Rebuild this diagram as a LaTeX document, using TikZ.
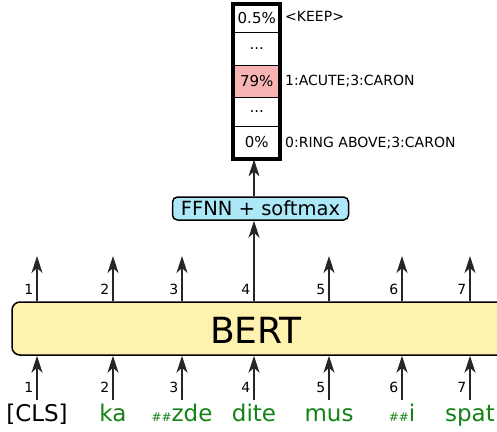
\documentclass[tikz,border=0pt]{standalone}
\usepackage{fontspec}
\setmainfont{DejaVu Sans}
\usetikzlibrary{arrows.meta}
\definecolor{bertfill}{RGB}{255,242,175}
\definecolor{ffnnfill}{RGB}{173,232,248}
\definecolor{hot}{RGB}{248,180,180}
\definecolor{tokgreen}{RGB}{20,130,20}
\begin{document}
\begin{tikzpicture}[x=1pt,y=-1pt,
  arr/.style={-{Stealth[length=17pt,width=11pt,inset=5pt]}, line width=1.3pt, draw=black!85},
  num/.style={font=\fontsize{14}{14}\selectfont, anchor=base east, inner sep=0pt},
  tok/.style={font=\fontsize{23}{23}\selectfont, anchor=base, inner sep=0pt, text=tokgreen},
  cell/.style={draw, line width=0.8pt, minimum width=46.5pt, inner sep=0pt, font=\fontsize{15}{15}\selectfont},
  lab/.style={font=\fontsize{14}{14}\selectfont, anchor=west, inner sep=0pt}]
\useasboundingbox (0,0) rectangle (497,431);
\clip (0,0) rectangle (497,431);
\fill[white] (0,0) rectangle (497,431);

% BERT box
\node[draw, line width=1.5pt, fill=bertfill, rounded corners=8pt, minimum width=518pt, minimum height=53pt, inner sep=0pt] (bert) at (271,328.5) {};
\node[font=\fontsize{36}{36}\selectfont, anchor=base, inner sep=0pt] (berttxt) at (256,343) {BERT};

% FFNN box
\node[draw, line width=1.5pt, fill=ffnnfill, rounded corners=5pt, minimum width=176pt, minimum height=23pt, inner sep=0pt, font=\fontsize{19.5}{19.5}\selectfont] (ffnn) at (260.5,208.5) {FFNN + softmax};

% Output column
\node[cell, minimum height=27.5pt] (c1) at (256.75,18.25) {0.5\%};
\node[cell, minimum height=33pt] (c2) at (256.75,48.5) {...};
\node[cell, minimum height=32pt, fill=hot] (c3) at (256.75,81) {79\%};
\node[cell, minimum height=29pt] (c4) at (256.75,111.5) {...};
\node[cell, minimum height=33pt] (c5) at (256.75,142.5) {0\%};
\draw[line width=4pt] (c1.north west) rectangle (c5.south east);

\node[lab] (l1) at (285,16) {<KEEP>};
\node[lab] (l3) at (285,81) {1:ACUTE;3:CARON};
\node[lab] (l5) at (285,143) {0:RING ABOVE;3:CARON};

% tokens
\node[tok, text=black] (tok1) at (37,421) {[CLS]};
\node[tok] (tok2) at (113,421) {ka};
\node[tok] (tok3) at (182,421) {{\fontsize{12}{12}\selectfont\#\#}zde};
\node[tok] (tok4) at (254,421) {dite};
\node[tok] (tok5) at (329,421) {mus};
\node[tok] (tok6) at (402,421) {{\fontsize{12}{12}\selectfont\#\#}i};
\node[tok] (tok7) at (470,421) {spat};

% arrows
\foreach \i/\x in {1/37,2/113,3/182,4/254,5/329,6/402,7/470}{
  \coordinate (s\i) at (\x,400);
  \coordinate (t\i) at (\x,256);
  \draw[arr] (s\i) -- (s\i |- bert.south);
  \node[num] (bn\i) at (\x-3.5,392.5) {\i};
  \node[num] (tn\i) at (\x-3.5,294) {\i};
}
\foreach \i in {1,2,3,5,6,7}{
  \draw[arr] (t\i |- bert.north) -- (t\i);
}
\draw[arr] (t4 |- bert.north) -- (t4 |- ffnn.south);
\draw[arr] (t4 |- ffnn.north) -- (t4 |- c5.south);
\end{tikzpicture}
\end{document}
